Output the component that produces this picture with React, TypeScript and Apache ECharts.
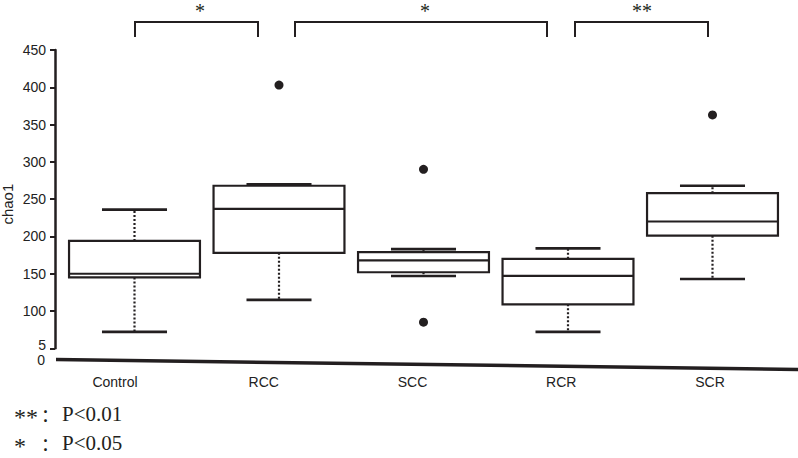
import React, { useEffect, useRef } from "react";
import * as echarts from "echarts";

const categories = ["Control", "RCC", "SCC", "RCR", "SCR"];
const whiskerLow = [72, 115, 147, 72, 143];
const q1 = [145, 178, 152, 109, 201];
const median = [150, 237, 168, 147, 220];
const q3 = [194, 268, 179, 170, 258];
const whiskerHigh = [236, 270, 183, 184, 268];
const outlierCats = ["RCC", "SCC", "SCC", "SCR"];
const outlierValues = [403, 290, 85, 363];
const yTickValues = [50, 100, 150, 200, 250, 300, 350, 400, 450];
const yTickLabels = ["5", "100", "150", "200", "250", "300", "350", "400", "450"];
const comparisons = ["*", "*", "**"];
const legendStars = ["**", "*"];
const legendTexts = ["P<0.01", "P<0.05"];

const INK = "#231f20";

export default function App() {
  const ref = useRef<HTMLDivElement>(null);
  useEffect(() => {
    const chart = echarts.init(ref.current!, null, { renderer: "svg" });
    const boxData = categories.map((_, i) => [i, whiskerLow[i], q1[i], median[i], q3[i], whiskerHigh[i]]);
    const outData = outlierCats.map((c, i) => [categories.indexOf(c), outlierValues[i]]);

    const bracketPos = [
      [135, 258, 200],
      [295, 547, 425],
      [575, 708, 642],
    ];
    const graphics: any[] = [
      {
        type: "line",
        shape: { x1: 56, y1: 359.5, x2: 798, y2: 369.5 },
        style: { stroke: INK, lineWidth: 3.5 },
      },
      {
        type: "text",
        x: 45,
        y: 360,
        style: { text: "0", fontSize: 14, lineHeight: 11, fontFamily: "Liberation Sans", fill: "#222", align: "right", verticalAlign: "middle" },
      },
    ];
    comparisons.forEach((s, i) => {
      const [a, b, c] = bracketPos[i];
      graphics.push({
        type: "polyline",
        shape: { points: [[a, 37], [a, 22], [b, 22], [b, 37]] },
        style: { stroke: INK, lineWidth: 2, fill: "none" },
      });
      graphics.push({
        type: "text",
        x: c,
        y: 11,
        style: { text: s, fontSize: 20, fontFamily: "Liberation Serif", fill: INK, align: "center", verticalAlign: "middle" },
      });
    });
    legendStars.forEach((s, i) => {
      const y = 414 + i * 29;
      graphics.push({
        type: "text", x: 14, y: y + 3,
        style: { text: s, fontSize: 24, fontFamily: "Liberation Serif", fill: INK, align: "left", verticalAlign: "middle" },
      });
      graphics.push({
        type: "text", x: 50, y,
        style: { text: "：", fontSize: 18, fontFamily: "Noto Sans CJK SC", fill: INK, align: "center", verticalAlign: "middle" },
      });
      graphics.push({
        type: "text", x: 62, y,
        style: { text: legendTexts[i], fontSize: 21, fontFamily: "Liberation Serif", fill: INK, align: "left", verticalAlign: "middle" },
      });
    });

    chart.setOption({
      animation: false,
      grid: [
        { left: 62.25, width: 722.5, top: 50, height: 298.3, containLabel: false, outerBoundsMode: "none" },
        { left: 40.6, width: 743.75, top: 300, height: 70, containLabel: false, outerBoundsMode: "none" },
      ],
      xAxis: [
        {
          type: "category",
          data: categories,
          gridIndex: 0,
          boundaryGap: true,
          axisLine: { show: false },
          axisTick: { show: false },
          axisLabel: { show: false },
        },
        {
          type: "category",
          data: categories,
          gridIndex: 1,
          boundaryGap: true,
          axisLine: { show: false },
          axisTick: { show: false },
          axisLabel: { show: true, margin: 5, fontSize: 14, fontFamily: "Liberation Sans Narrow, Liberation Sans", color: "#222" },
        },
      ],
      yAxis: [
        {
          type: "value",
          gridIndex: 0,
          min: 50,
          max: 450,
          interval: 50,
          offset: 7.25,
          name: "chao1",
          nameLocation: "middle",
          nameGap: 40,
          nameMoveOverlap: false,
          nameTextStyle: { fontSize: 15, fontFamily: "Liberation Sans", color: "#222", padding: [0, 10, 0, 0] },
          axisLine: { show: true, lineStyle: { color: INK, width: 2.5 } },
          axisTick: { show: true, length: 5, lineStyle: { color: INK, width: 2 } },
          axisLabel: {
            margin: 9,
            fontSize: 14,
            fontFamily: "Liberation Sans",
            color: "#222",
            formatter: (v: number) => {
              const k = yTickValues.indexOf(v);
              if (k < 0) return "";
              return v === yTickValues[0] ? "{up|" + yTickLabels[k] + "}" : yTickLabels[k];
            },
            rich: {
              up: { fontSize: 14, fontFamily: "Liberation Sans", color: "#222", lineHeight: 11, padding: [0, 0, 6, 0] },
            },
          },
          splitLine: { show: false },
        },
        {
          type: "value",
          gridIndex: 1,
          show: false,
        },
      ],
      series: [
        {
          type: "custom",
          xAxisIndex: 0,
          yAxisIndex: 0,
          data: boxData,
          renderItem: (params: any, api: any) => {
            const idx = api.value(0);
            const pLow = api.coord([idx, api.value(1)]);
            const pQ1 = api.coord([idx, api.value(2)]);
            const pMed = api.coord([idx, api.value(3)]);
            const pQ3 = api.coord([idx, api.value(4)]);
            const pHigh = api.coord([idx, api.value(5)]);
            const band = api.size([1, 0])[0];
            const boxW = band * 0.906;
            const capW = band * 0.45;
            const cx = pMed[0];
            const solid = { stroke: INK, lineWidth: 2.2, fill: "none" };
            const dotted = { stroke: INK, lineWidth: 2.2, lineDash: [2, 2], fill: "none" };
            return {
              type: "group",
              children: [
                { type: "line", shape: { x1: cx, y1: pQ3[1], x2: cx, y2: pHigh[1] }, style: dotted },
                { type: "line", shape: { x1: cx, y1: pQ1[1], x2: cx, y2: pLow[1] }, style: dotted },
                {
                  type: "rect",
                  shape: { x: cx - boxW / 2, y: pQ3[1], width: boxW, height: pQ1[1] - pQ3[1] },
                  style: { stroke: INK, lineWidth: 2.2, fill: "#fff" },
                },
                { type: "line", shape: { x1: cx - boxW / 2, y1: pMed[1], x2: cx + boxW / 2, y2: pMed[1] }, style: solid },
                { type: "line", shape: { x1: cx - capW / 2, y1: pHigh[1], x2: cx + capW / 2, y2: pHigh[1] }, style: { ...solid, lineWidth: 2.6 } },
                { type: "line", shape: { x1: cx - capW / 2, y1: pLow[1], x2: cx + capW / 2, y2: pLow[1] }, style: { ...solid, lineWidth: 2.6 } },
              ],
            };
          },
        },
        {
          type: "scatter",
          xAxisIndex: 0,
          yAxisIndex: 0,
          data: outData,
          symbol: "circle",
          symbolSize: 9,
          itemStyle: { color: INK, opacity: 1 },
        },
      ],
      graphic: graphics,
    });
    return () => chart.dispose();
  }, []);
  return <div ref={ref} style={{ position: "fixed", left: 0, top: 0, width: 798, height: 458, background: "#fff" }} />;
}
